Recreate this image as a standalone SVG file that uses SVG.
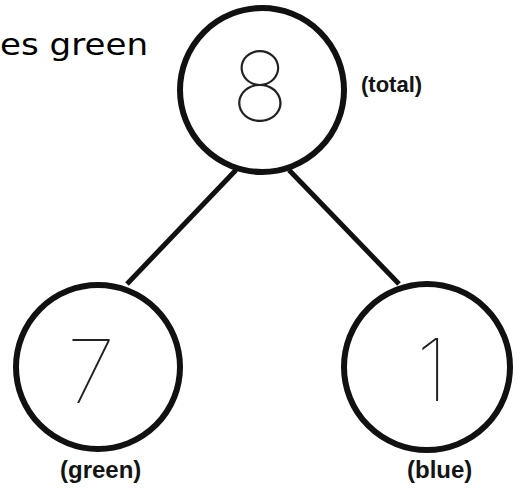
<svg xmlns="http://www.w3.org/2000/svg" width="517" height="489" viewBox="0 0 517 489">
<style>
.node{fill:#fff;stroke:#111;stroke-width:6}
.edge{stroke:#111;stroke-width:5;stroke-linecap:butt}
.digit{font-family:Inter,"DejaVu Sans",sans-serif;font-weight:100;fill:#222;text-anchor:middle}
.lbl{font-family:"Liberation Sans",Arial,sans-serif;font-weight:bold;fill:#141414}
.hand{font-family:"DejaVu Sans",sans-serif;fill:#000}
</style>
<rect width="517" height="489" fill="#fff"/>
<text class="hand" x="0" y="55" font-size="30" textLength="148" lengthAdjust="spacingAndGlyphs">es green</text>
<g id="connectors">
<line class="edge" x1="236" y1="170" x2="127" y2="284"/>
<line class="edge" x1="289" y1="170" x2="399" y2="284"/>
</g>
<g id="node-total">
<circle class="node" cx="262" cy="90" r="82"/>
<text class="digit" x="260" y="121" font-size="96">8</text>
</g>
<text class="lbl" x="361" y="92" font-size="22">(total)</text>
<g id="node-green">
<circle class="node" cx="98" cy="367" r="82"/>
<text class="digit" x="91" y="403" font-size="88">7</text>
</g>
<text class="lbl" x="60" y="478" font-size="24">(green)</text>
<g id="node-blue">
<circle class="node" cx="427" cy="367" r="83"/>
<text class="digit" x="432" y="401" font-size="86">1</text>
</g>
<text class="lbl" x="407" y="478" font-size="24">(blue)</text>
</svg>
